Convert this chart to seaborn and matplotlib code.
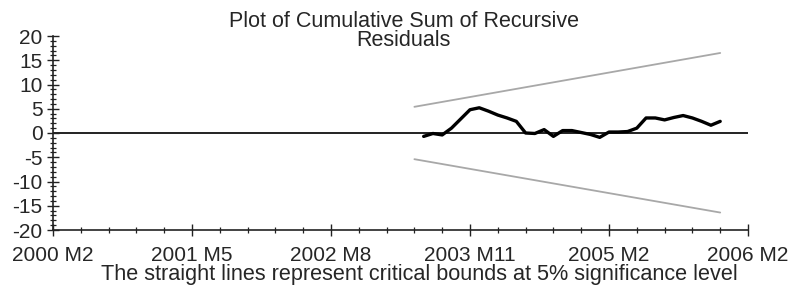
import numpy as np
import pandas as pd
import matplotlib
matplotlib.use('Agg')
import matplotlib.pyplot as plt
from matplotlib.ticker import MultipleLocator
import seaborn as sns

# ── Data (months counted from 2000 M2) ─────────────────────────────────────
cusum_months = list(range(40, 73))
cusum_values = [-0.7, -0.1, -0.4, 1.0, 2.9, 4.8, 5.2, 4.5, 3.7, 3.1, 2.4,
                0.0, -0.1, 0.7, -0.7, 0.5, 0.5, 0.1, -0.3, -0.9, 0.2, 0.2,
                0.3, 1.0, 3.1, 3.1, 2.7, 3.2, 3.6, 3.1, 2.4, 1.6, 2.4]
bound_months = [39, 72]
upper_bound = [5.4, 16.5]
lower_bound = [-5.4, -16.4]
tick_months = [0, 15, 30, 45, 60, 75]
tick_labels = ['2000 M2', '2001 M5', '2002 M8', '2003 M11', '2005 M2', '2006 M2']

cusum = pd.DataFrame({'month': cusum_months, 'value': cusum_values})
bounds = pd.DataFrame({'month': bound_months, 'upper': upper_bound, 'lower': lower_bound})

sns.set_style('ticks')
plt.rcParams['font.family'] = ['Liberation Sans', 'DejaVu Sans']
plt.rcParams['axes.unicode_minus'] = False
FS = 15

fig = plt.figure(figsize=(7.98, 2.87), dpi=100)
ax = fig.add_axes([53/798, 1 - 230/287, 695/798, 194/287])

ax.axhline(0, color='#222222', linewidth=1.4, zorder=1)
sns.lineplot(data=bounds, x='month', y='upper', ax=ax, color='#a8a8a8', linewidth=1.3)
sns.lineplot(data=bounds, x='month', y='lower', ax=ax, color='#a8a8a8', linewidth=1.3)
sns.lineplot(data=cusum, x='month', y='value', ax=ax, color='black', linewidth=2.4)

ax.set_xlim(0, 75)
ax.set_ylim(-20, 20)
ax.set_xticks(tick_months)
ax.set_xticklabels(tick_labels, fontsize=FS)
ax.xaxis.set_minor_locator(MultipleLocator(3))
ax.set_yticks(range(-20, 21, 5))
ax.yaxis.set_minor_locator(MultipleLocator(1))
ax.tick_params(which='major', direction='inout', length=9, width=1, color='#222222')
ax.tick_params(which='minor', direction='inout', length=5, width=0.9, color='#222222')
ax.tick_params(axis='y', labelsize=FS, pad=3)
ax.tick_params(axis='x', pad=7)

sns.despine(ax=ax)
for side in ['left', 'bottom']:
    ax.spines[side].set_color('#222222')
    ax.spines[side].set_linewidth(1.2)

ax.set_xlabel('The straight lines represent critical bounds at 5% significance level',
              fontsize=15.6, labelpad=0)
ax.xaxis.set_label_coords(0.527, -0.175)
ax.xaxis.label.set_va('top')
ax.set_ylabel('')
fig.text(0.506, 0.962, 'Plot of Cumulative Sum of Recursive\nResiduals',
         ha='center', va='top', fontsize=15.5, linespacing=0.88)

fig.savefig('out.png', dpi=100)
